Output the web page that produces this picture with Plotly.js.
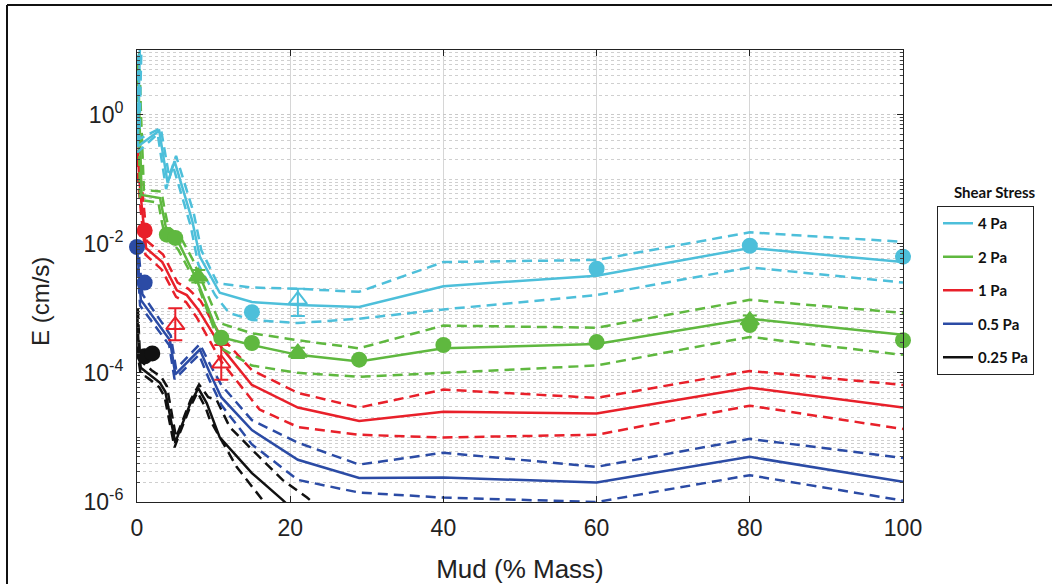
<!DOCTYPE html>
<html>
<head>
<meta charset="utf-8">
<script src="https://cdn.plot.ly/plotly-3.0.1.min.js"></script>
<style>html,body{margin:0;padding:0;background:#fff;}#chart{width:1052px;height:584px;}</style>
</head>
<body>
<div id="chart"></div>
<script>
// ---- Data (Mud % mass vs erosion rate E, cm/s) ----
const seriesNames = ["4 Pa", "2 Pa", "1 Pa", "0.5 Pa", "0.25 Pa"];

// 4 Pa (cyan)
const cyanX   = [0.4, 0.1, 2.9, 4.0, 4.9, 7.2, 8.2, 10.8, 15, 21, 29, 40, 60, 80, 100];
const cyanE   = [15, 0.32, 0.56, 0.087, 0.19, 0.023, 0.0063, 1.74e-3, 1.25e-3, 1.12e-3, 1.05e-3, 2.2e-3, 3.2e-3, 8.6e-3, 5.2e-3];
const cyanUpX = [0.6, 0.3, 3.1, 4.2, 5.1, 7.4, 8.4, 10.5, 15, 21, 29, 40, 60, 80, 100];
const cyanUpE = [15, 0.42, 0.62, 0.11, 0.23, 0.03, 7.9e-3, 2.45e-3, 2.1e-3, 2.0e-3, 1.8e-3, 5.2e-3, 5.6e-3, 0.015, 0.0107];
const cyanLoX = [0.2, 0.05, 2.7, 3.8, 4.7, 7.0, 8.0, 10.2, 12, 15, 21, 29, 40, 60, 80, 100];
const cyanLoE = [15, 0.26, 0.5, 0.07, 0.16, 0.019, 4.8e-3, 1.6e-3, 8.5e-4, 6.6e-4, 5.9e-4, 6.9e-4, 9.6e-4, 1.6e-3, 4.3e-3, 2.5e-3];
const cyanPtX = [15, 60, 80, 100];
const cyanPtE = [8.7e-4, 4.1e-3, 9.3e-3, 6.3e-3];
const cyanTriX = [21];
const cyanTriE = [1.35e-3];
const cyanTriPlus = [0.65e-3];
const cyanTriMinus = [0.59e-3];

// 2 Pa (green)
const greenX   = [0.1, 0.3, 0.6, 3.0, 3.4, 3.9, 5.1, 5.6, 7.8, 10.4, 11.2, 15, 21, 29, 40, 60, 80, 100];
const greenE   = [8, 0.9, 0.057, 0.051, 0.028, 0.015, 0.0115, 9.5e-3, 2.75e-3, 4.6e-4, 3.5e-4, 2.7e-4, 1.9e-4, 1.5e-4, 2.4e-4, 2.8e-4, 6.9e-4, 3.9e-4];
const greenUpX = [0.3, 0.5, 0.9, 3.2, 3.6, 4.1, 5.3, 5.8, 7.3, 10.8, 15, 21, 29, 40, 60, 80, 100];
const greenUpE = [9, 1.2, 0.068, 0.064, 0.034, 0.018, 0.014, 0.012, 5.6e-3, 5.9e-4, 4.1e-4, 3.2e-4, 2.4e-4, 5.4e-4, 5.0e-4, 1.35e-3, 8.5e-4];
const greenLoX = [0.05, 0.2, 0.4, 2.8, 3.2, 3.7, 4.9, 5.4, 8.2, 11, 15, 21, 29, 40, 60, 80, 100];
const greenLoE = [7, 0.7, 0.048, 0.043, 0.023, 0.0125, 9.5e-3, 8e-3, 1.9e-3, 2.4e-4, 1.3e-4, 1.0e-4, 8.7e-5, 1.0e-4, 1.3e-4, 3.6e-4, 1.9e-4];
const greenPtX = [3.9, 5.0, 11, 15, 29, 40, 60, 80, 100];
const greenPtE = [0.0138, 0.0123, 3.5e-4, 2.9e-4, 1.6e-4, 2.7e-4, 3.0e-4, 5.5e-4, 3.2e-4];
const greenTriX = [8, 21, 80];
const greenTriE = [3.1e-3, 2.05e-4, 6.5e-4];
const greenTriPlus = [0.8e-3, 0.4e-4, 1.2e-4];
const greenTriMinus = [0.6e-3, 0.35e-4, 1.0e-4];

// 1 Pa (red)
const redX   = [0.1, 0.3, 0.6, 1.0, 1.2, 3.3, 5.2, 6.5, 8.0, 11, 15, 21, 29, 40, 60, 80, 100];
const redE   = [0.28, 0.1, 0.04, 0.015, 8.5e-3, 5.2e-3, 1.9e-3, 1.6e-3, 9.5e-4, 2.5e-4, 6.5e-5, 2.9e-5, 1.8e-5, 2.5e-5, 2.35e-5, 5.9e-5, 2.9e-5];
const redUpX = [0.2, 0.4, 0.8, 1.3, 3.4, 5.3, 6.7, 8.3, 11, 15, 21, 29, 40, 60, 80, 100];
const redUpE = [0.35, 0.12, 0.05, 0.011, 6.8e-3, 2.5e-3, 2.0e-3, 1.3e-3, 3.6e-4, 1.1e-4, 4.9e-5, 2.9e-5, 5.5e-5, 4.1e-5, 1.07e-4, 6.5e-5];
const redLoX = [0.05, 0.2, 0.5, 1.1, 3.2, 5.1, 6.4, 7.8, 11, 16, 21, 29, 40, 60, 80, 100];
const redLoE = [0.22, 0.08, 0.032, 6.8e-3, 4.0e-3, 1.5e-3, 1.25e-3, 7.2e-4, 1.5e-4, 2.7e-5, 1.45e-5, 1.1e-5, 1.0e-5, 1.1e-5, 3.1e-5, 1.35e-5];
const redPtX = [1];
const redPtE = [0.016];
const redTriX = [5, 11];
const redTriE = [5.5e-4, 1.4e-4];
const redTriPlus = [4.5e-4, 1.3e-4];
const redTriMinus = [2.3e-4, 6.2e-5];

// 0.5 Pa (blue)
const blueX   = [0, 0.3, 0.5, 4.3, 5.0, 8.2, 9.5, 11, 15, 21, 29, 40, 60, 80, 100];
const blueE   = [8.9e-3, 3.1e-3, 1.35e-3, 3.2e-4, 9.5e-5, 2.3e-4, 1.0e-4, 4.2e-5, 1.3e-5, 4.5e-6, 2.35e-6, 2.4e-6, 2.0e-6, 5.0e-6, 2.05e-6];
const blueUpX = [0.1, 0.4, 0.7, 4.4, 5.1, 8.2, 9.6, 11, 15, 21, 29, 40, 60, 80, 100];
const blueUpE = [0.011, 3.8e-3, 1.65e-3, 3.8e-4, 1.15e-4, 2.8e-4, 1.3e-4, 6.5e-5, 1.85e-5, 8.3e-6, 3.8e-6, 5.8e-6, 3.5e-6, 9.5e-6, 4.8e-6];
const blueLoX = [0, 0.2, 0.4, 4.2, 4.9, 8.1, 9.4, 11, 15, 21, 29, 40, 60, 80, 100];
const blueLoE = [7.5e-3, 2.6e-3, 1.1e-3, 2.7e-4, 8e-5, 1.9e-4, 8e-5, 3.2e-5, 7.8e-6, 2.2e-6, 1.4e-6, 1.17e-6, 1.0e-6, 2.6e-6, 1.05e-6];
const bluePtX = [0, 1];
const bluePtE = [8.9e-3, 2.5e-3];

// 0.25 Pa (black)
const blackX   = [0, 0.26, 0.5, 1.7, 3.0, 3.7, 5.0, 5.6, 6.9, 8.0, 9.1, 10.8, 15, 19, 21, 29];
const blackE   = [9e-4, 1.9e-4, 1.2e-4, 9.3e-5, 7.0e-5, 5.1e-5, 8.3e-6, 1.3e-5, 3.2e-5, 5.8e-5, 3.4e-5, 1.0e-5, 2.8e-6, 1.08e-6, 6.3e-7, 1.8e-7];
const blackUpX = [0.1, 0.35, 0.7, 1.9, 3.2, 3.9, 5.1, 5.8, 7.0, 8.1, 9.3, 10.4, 12.1, 15, 19, 22.2, 29];
const blackUpE = [1.0e-3, 2.3e-4, 1.45e-4, 1.1e-4, 8.5e-5, 6.2e-5, 1.0e-5, 1.6e-5, 3.8e-5, 6.6e-5, 4.2e-5, 3.8e-5, 1.45e-5, 6.5e-6, 2.2e-6, 1.17e-6, 2.5e-7];
const blackLoX = [0, 0.2, 0.45, 1.6, 2.9, 3.6, 4.9, 5.5, 6.8, 7.9, 9.0, 9.5, 13, 16.4, 21];
const blackLoE = [8e-4, 1.6e-4, 1.0e-4, 8.0e-5, 6.0e-5, 4.3e-5, 7e-6, 1.1e-5, 2.7e-5, 5.0e-5, 2.8e-5, 1.9e-5, 3.5e-6, 1.07e-6, 2.5e-7];
const blackPtX = [1, 2];
const blackPtE = [1.8e-4, 2.0e-4];

// Axis tick labels
const xTicks = [0, 20, 40, 60, 80, 100];
const yTickVals = [1e-6, 1e-4, 1e-2, 1];
const yTickText = ["10<sup>-6</sup>", "10<sup>-4</sup>", "10<sup>-2</sup>", "10<sup>0</sup>"];

// ---- Styling ----
const C = {cyan:"#4DBFDA", green:"#5FB83F", red:"#E8202A", blue:"#2B4BA5", black:"#111111"};
const DASH = "10px,6px";
const LW = 2.5;
const SANS = "Arial, 'Liberation Sans', sans-serif";
const LEGF = "Lato, 'Open Sans', sans-serif";

function line(x, y, color, dashed, name, rank) {
  const t = {x:x, y:y, type:"scatter", mode:"lines",
    line:{color:color, width:LW, dash: dashed ? DASH : "solid"},
    hoverinfo:"skip", showlegend:false, legendgroup:"g"+(rank||0)};
  if (name) { t.name = name; t.showlegend = true; t.legendgroup = "g"+rank; t.legendrank = rank; }
  return t;
}
function circles(x, y, color) {
  return {x:x, y:y, type:"scatter", mode:"markers", cliponaxis:false, showlegend:false,
    marker:{symbol:"circle", size:16, color:color, line:{width:0}}};
}
function tris(x, y, plus, minus, color, open) {
  return {x:x, y:y, type:"scatter", mode:"markers", cliponaxis:false, showlegend:false,
    marker:{symbol: open ? "triangle-up-open" : "triangle-up", size:16, color:color, line:{width:2, color:color}},
    error_y:{type:"data", symmetric:false, array:plus, arrayminus:minus, color:color, thickness:2, width:7}};
}

const traces = [
  line(blackUpX, blackUpE, C.black, true), line(blackLoX, blackLoE, C.black, true), line(blackX, blackE, C.black, false, seriesNames[4], 5),
  line(blueUpX, blueUpE, C.blue, true), line(blueLoX, blueLoE, C.blue, true), line(blueX, blueE, C.blue, false, seriesNames[3], 4),
  line(redUpX, redUpE, C.red, true), line(redLoX, redLoE, C.red, true), line(redX, redE, C.red, false, seriesNames[2], 3),
  line(greenUpX, greenUpE, C.green, true), line(greenLoX, greenLoE, C.green, true), line(greenX, greenE, C.green, false, seriesNames[1], 2),
  line(cyanUpX, cyanUpE, C.cyan, true), line(cyanLoX, cyanLoE, C.cyan, true), line(cyanX, cyanE, C.cyan, false, seriesNames[0], 1),
  circles(blackPtX, blackPtE, C.black),
  circles(bluePtX, bluePtE, C.blue),
  circles(redPtX, redPtE, C.red),
  tris(redTriX, redTriE, redTriPlus, redTriMinus, C.red, true),
  circles(greenPtX, greenPtE, C.green),
  tris(greenTriX, greenTriE, greenTriPlus, greenTriMinus, C.green, false),
  circles(cyanPtX, cyanPtE, C.cyan),
  tris(cyanTriX, cyanTriE, cyanTriPlus, cyanTriMinus, C.cyan, true)
];

// minor log grid positions (layout only)
const minorVals = [];
for (let d = -6; d <= 0; d++) {
  for (let m = 1; m <= 9; m++) {
    if (m === 1 && d % 2 === 0) continue;
    minorVals.push(m * Math.pow(10, d));
  }
}

const L = 137, R = 903, T = 50, B = 502;
const px2x = p => (p - L) / (R - L);
const px2y = p => (B - p) / (B - T);

const layout = {
  width:1052, height:584,
  margin:{l:L, r:1052-R, t:T, b:584-B, autoexpand:false},
  paper_bgcolor:"#ffffff", plot_bgcolor:"#ffffff",
  font:{family:SANS, color:"#222"},
  showlegend:true,
  legend:{x:px2x(937), xanchor:"left", y:px2y(206), yanchor:"top",
    bordercolor:"#222", borderwidth:1, bgcolor:"#fff",
    font:{family:LEGF, size:15, color:"#111", weight:"bold"},
    tracegroupgap:11, traceorder:"grouped", itemwidth:30,
    entrywidth:115, entrywidthmode:"pixels"},
  xaxis:{range:[0,100], tickvals:xTicks, ticks:"inside", ticklen:6, tickcolor:"#222",
    showline:true, linecolor:"#222", linewidth:1, mirror:"ticks",
    showgrid:true, gridcolor:"#d6d6d6", gridwidth:1, zeroline:false,
    ticklabelstandoff:5,
    tickfont:{family:SANS, size:23, color:"#222"},
    title:{text:"Mud (% Mass)", font:{family:SANS, size:26, color:"#222"}, standoff:20}},
  yaxis:{type:"log", range:[-6,1], tickvals:yTickVals, ticktext:yTickText,
    ticks:"inside", ticklen:6, tickcolor:"#222",
    showline:true, linecolor:"#222", linewidth:1, mirror:"ticks",
    showgrid:true, gridcolor:"#c9c9c9", griddash:"dot", gridwidth:1, zeroline:false,
    ticklabelstandoff:8,
    tickfont:{family:SANS, size:23, color:"#222"},
    minor:{tickmode:"array", tickvals:minorVals, ticks:"inside", ticklen:3, tickcolor:"#444",
      showgrid:true, gridcolor:"#cfcfcf", griddash:"dot", gridwidth:1}},
  annotations:[
    {text:"E (cm/s)", xref:"paper", yref:"paper", x:px2x(40), y:px2y(302), textangle:-90,
      showarrow:false, font:{family:SANS, size:24, color:"#222"}, xanchor:"center", yanchor:"middle"},
    {text:"<b>Shear Stress</b>", xref:"paper", yref:"paper", x:px2x(995), y:px2y(192),
      showarrow:false, font:{family:LEGF, size:15, color:"#111"}, xanchor:"center", yanchor:"middle"}
  ],
  shapes:[
    {type:"line", xref:"paper", yref:"paper", x0:px2x(7), x1:px2x(7), y0:px2y(600), y1:px2y(5), line:{color:"#111", width:2}},
    {type:"line", xref:"paper", yref:"paper", x0:px2x(7), x1:px2x(1060), y0:px2y(5), y1:px2y(5), line:{color:"#111", width:2}}
  ]
};

Plotly.newPlot("chart", traces, layout, {displayModeBar:false, staticPlot:true});
</script>
</body>
</html>
